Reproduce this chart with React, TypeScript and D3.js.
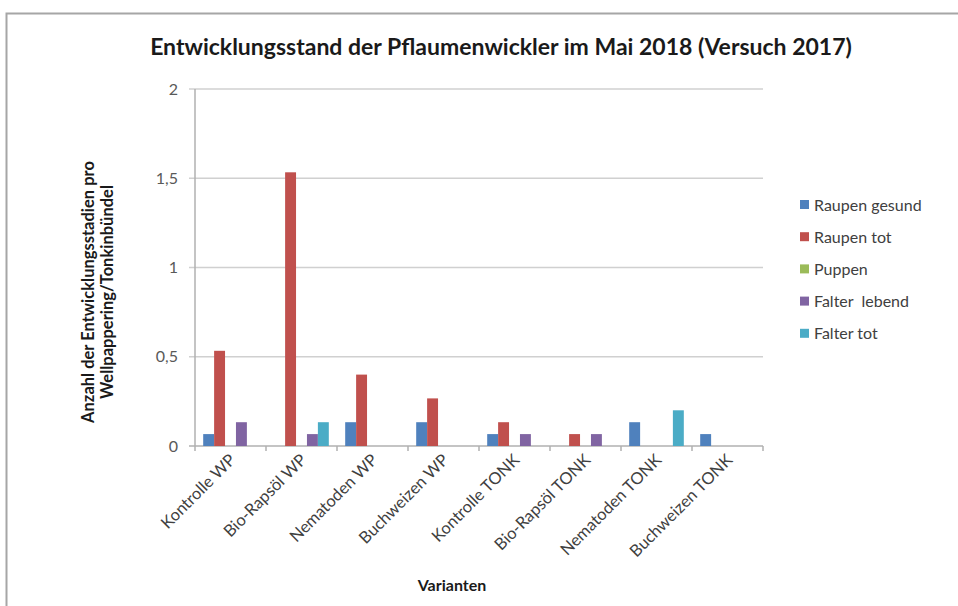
import React from "react";
import * as d3 from "d3";

const categories = [
  "Kontrolle WP",
  "Bio-Rapsöl WP",
  "Nematoden WP",
  "Buchweizen WP",
  "Kontrolle TONK",
  "Bio-Rapsöl TONK",
  "Nematoden TONK",
  "Buchweizen TONK",
];
const seriesNames = ["Raupen gesund", "Raupen tot", "Puppen", "Falter  lebend", "Falter tot"];
const seriesColors = ["#4F81BD", "#C0504D", "#9BBB59", "#8064A2", "#4BACC6"];
const raupenGesund = [0.0667, 0, 0.1333, 0.1333, 0.0667, 0, 0.1333, 0.0667];
const raupenTot = [0.5333, 1.5333, 0.4, 0.2667, 0.1333, 0.0667, 0, 0];
const puppen = [0, 0, 0, 0, 0, 0, 0, 0];
const falterLebend = [0.1333, 0.0667, 0, 0, 0.0667, 0.0667, 0, 0];
const falterTot = [0, 0.1333, 0, 0, 0, 0, 0.2, 0];
const seriesValues = [raupenGesund, raupenTot, puppen, falterLebend, falterTot];
const yTicks = [0, 0.5, 1, 1.5, 2];
const yTickLabels = ["0", "0,5", "1", "1,5", "2"];

const FONT = "Lato, 'Open Sans', sans-serif";

export default function App() {
  const W = 958, H = 606;
  const left = 195, right = 763, top = 89, bottom = 446;
  const x = d3.scaleBand().domain(categories).range([left, right]).paddingInner(0).paddingOuter(0);
  const bw = x.bandwidth() / 6.5;
  const inner = d3.scaleBand().domain(seriesNames).range([0.75 * bw, x.bandwidth() - 0.75 * bw]);
  const y = d3.scaleLinear().domain([0, 2]).range([bottom, top]);
  const boundaries = d3.range(categories.length + 1).map((i) => left + i * x.bandwidth());

  return (
    <svg width={W} height={H} style={{ position: "absolute", left: 0, top: 0, background: "#fff" }}>
      <rect x={6.5} y={13.5} width={1000} height={1000} fill="#fff" stroke="#a6a6a6" strokeWidth={2} />
      <text x={501} y={55} textAnchor="middle" fontFamily={FONT} fontWeight="bold" fontSize={23} fill="#1a1a1a">
        Entwicklungsstand der Pflaumenwickler im Mai 2018 (Versuch 2017)
      </text>
      {yTicks.map((t, i) => (
        <g key={t}>
          <line x1={left - 6} x2={right} y1={y(t)} y2={y(t)} stroke={t === 0 ? "#b0b0b0" : "#d0d0d0"} strokeWidth={1.5} />
          <text x={178} y={y(t)} dy="0.35em" textAnchor="end" fontFamily={FONT} fontSize={16} fill="#595959">
            {yTickLabels[i]}
          </text>
        </g>
      ))}
      <line x1={left} x2={left} y1={top} y2={bottom} stroke="#b0b0b0" strokeWidth={1.5} />
      {boundaries.map((bx, i) => (
        <line key={i} x1={bx} x2={bx} y1={bottom} y2={bottom + 5} stroke="#b0b0b0" strokeWidth={1.5} />
      ))}
      {seriesValues.map((vals, si) =>
        vals.map((v, ci) =>
          v > 0 ? (
            <rect
              key={`${si}-${ci}`}
              x={(x(categories[ci]) as number) + (inner(seriesNames[si]) as number)}
              y={y(v)}
              width={inner.bandwidth()}
              height={bottom - y(v)}
              fill={seriesColors[si]}
            />
          ) : null
        )
      )}
      {categories.map((c) => {
        const cx = (x(c) as number) + x.bandwidth() / 2;
        return (
          <text key={c} transform={`translate(${cx + 6},${bottom + 15}) rotate(-45)`} textAnchor="end" fontFamily={FONT} fontSize={16.5} fill="#404040">
            {c}
          </text>
        );
      })}
      <text x={452} y={591} textAnchor="middle" fontFamily={FONT} fontWeight="bold" fontSize={16} fill="#1a1a1a">
        Varianten
      </text>
      <g transform="translate(0,292) rotate(-90)" fontFamily={FONT} fontWeight="bold" fontSize={16.5} fill="#1a1a1a" textAnchor="middle">
        <text x={0} y={94}>Anzahl der Entwicklungsstadien pro</text>
        <text x={0} y={113}>Wellpappering/Tonkinbündel</text>
      </g>
      {seriesNames.map((s, i) => (
        <g key={s} transform={`translate(800,${205 + i * 32.2})`}>
          <rect x={0} y={-5} width={9} height={9} fill={seriesColors[i]} />
          <text x={14} y={0} dy="0.35em" fontFamily={FONT} fontSize={16} fill="#404040" style={{ whiteSpace: "pre" }}>
            {s}
          </text>
        </g>
      ))}
    </svg>
  );
}
